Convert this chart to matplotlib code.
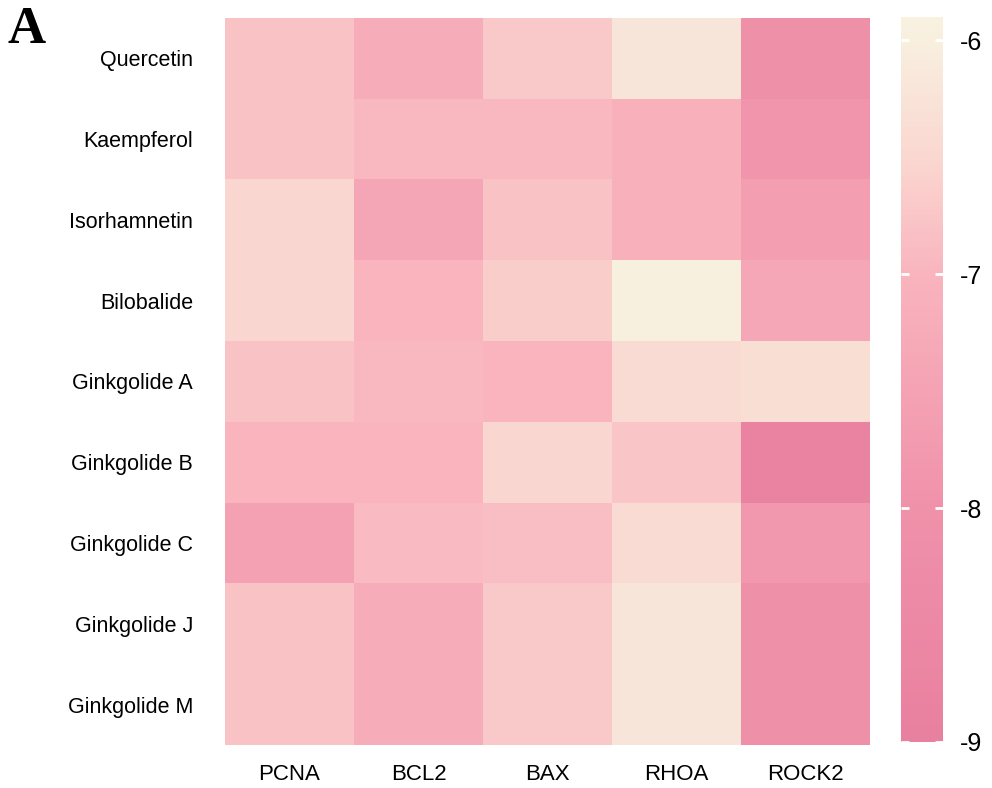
import numpy as np
import matplotlib.pyplot as plt
from matplotlib.colors import LinearSegmentedColormap

plt.rcParams["axes.unicode_minus"] = False

# docking binding energies (kcal/mol) of ginkgo compounds vs target proteins
compounds = ["Quercetin", "Kaempferol", "Isorhamnetin", "Bilobalide", "Ginkgolide A",
             "Ginkgolide B", "Ginkgolide C", "Ginkgolide J", "Ginkgolide M"]
targets = ["PCNA", "BCL2", "BAX", "RHOA", "ROCK2"]

pcna = [-6.8, -6.8, -6.5, -6.5, -6.8, -7.0, -7.5, -6.8, -6.8]
bcl2 = [-7.2, -6.95, -7.4, -7.0, -6.95, -7.0, -6.9, -7.2, -7.2]
bax = [-6.7, -6.95, -6.8, -6.65, -7.0, -6.5, -6.85, -6.7, -6.7]
rhoa = [-6.2, -7.1, -7.1, -5.95, -6.4, -6.75, -6.4, -6.2, -6.2]
rock2 = [-8.0, -7.85, -7.6, -7.35, -6.35, -8.8, -7.8, -8.0, -8.0]

data = np.array([pcna, bcl2, bax, rhoa, rock2]).T

vmin, vmax = -9.0, -5.9
stops = [(-9.0, "#e8809f"), (-8.0, "#f091aa"), (-7.0, "#f9b4be"),
         (-6.5, "#fad7d0"), (-6.0, "#f8efdf"), (-5.9, "#f8f1e0")]
cmap = LinearSegmentedColormap.from_list(
    "pinkcream", [((v - vmin) / (vmax - vmin), c) for v, c in stops])

fig = plt.figure(figsize=(9.92, 7.88), dpi=100)
ax = fig.add_axes([225/992, 1 - 745/788, 645/992, 727/788])
cax = fig.add_axes([901/992, 1 - 742/788, 42/992, 725/788])

im = ax.imshow(data, cmap=cmap, vmin=vmin, vmax=vmax, aspect="auto")
ax.set_xticks(range(len(targets)))
ax.set_xticklabels(targets, fontsize=16, fontfamily="Liberation Sans")
ax.set_yticks(range(len(compounds)))
ax.set_yticklabels(compounds, fontsize=15.5, fontfamily="Liberation Sans")
ax.tick_params(length=0)
ax.tick_params(axis="y", pad=23)
ax.tick_params(axis="x", pad=14)
for s in ax.spines.values():
    s.set_visible(False)

cb = fig.colorbar(im, cax=cax, ticks=[-9, -8, -7, -6])
cb.outline.set_visible(False)
cb.ax.set_yticklabels(["-9", "-8", "-7", "-6"])
cb.ax.tick_params(direction="in", color="white", length=6, width=2,
                  left=True, right=True, labelsize=18, pad=12)
for t in cb.ax.get_yticklabels():
    t.set_fontfamily("Liberation Sans")

fig.text(8/992, 1 - 43/788, "A", fontsize=38, fontweight="bold",
         fontfamily="Liberation Serif")

plt.savefig("out.png", dpi=100)
